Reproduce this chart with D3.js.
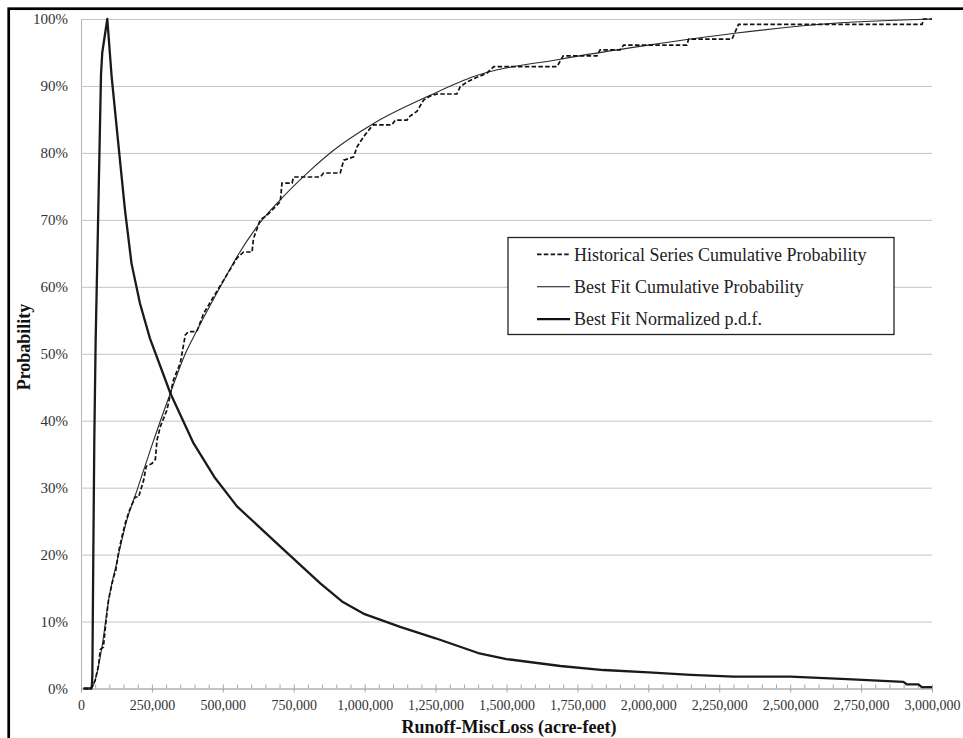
<!DOCTYPE html>
<html>
<head>
<meta charset="utf-8">
<script src="https://cdn.jsdelivr.net/npm/d3@7"></script>
<style>
  body { margin: 0; background: #fff; }
  svg { display: block; font-family: "Liberation Serif", "Times New Roman", serif; }
</style>
</head>
<body>
<script>
// historical series, empirical cumulative probability (step line)
var histX = [9000, 36300, 50000, 62000, 68000, 79000, 88000, 97000, 110000, 116000, 122000, 133000,
  144500, 156000, 170000, 191000, 203000, 220700, 230000, 250000, 262000, 268000, 279500, 303000,
  326000, 350000, 367700, 379000, 403000, 410000, 432000, 467000, 503000, 550000, 573000, 603000,
  608000, 632000, 656000, 702600, 708500, 744000, 749500, 843600, 855000, 914000, 926000, 961000,
  973000, 996000, 1020000, 1031500, 1096000, 1108000, 1149000, 1160000, 1184000, 1208000, 1231000,
  1255000, 1325000, 1337000, 1361000, 1396000, 1431000, 1455000, 1678000, 1700000, 1819000,
  1830000, 1901000, 1913000, 2136000, 2142000, 2295000, 2318000, 2965000, 2970000, 3000000];
var histP = [0, 0, 1.2, 3.5, 5.8, 6.2, 10, 13.2, 15.8, 16.8, 17.5, 20.5,
  22.7, 24.7, 26.5, 28.6, 28.6, 31.1, 33.2, 33.6, 34.2, 37.1, 39.1, 41.6,
  46.1, 48.6, 52.8, 53.3, 53.3, 53.5, 56.0, 58.5, 61.0, 64.3, 65.2, 65.2,
  67.2, 70.0, 70.7, 72.7, 75.5, 75.5, 76.4, 76.4, 77.0, 77.0, 78.9, 79.4,
  80.9, 82.4, 83.7, 84.2, 84.2, 84.9, 84.9, 85.5, 86.2, 87.9, 88.5,
  88.8, 88.8, 89.9, 90.6, 91.3, 91.9, 92.9, 92.9, 94.5, 94.5,
  95.4, 95.4, 96.1, 96.1, 97.0, 97.0, 99.2, 99.2, 100, 100];

// best fit cumulative probability
var fitX = [9000, 36300, 56400, 74000, 97300, 127000, 162000, 197400, 244300, 314800, 367700,
  409000, 491000, 550000, 626000, 702600, 808000, 890600, 1031500, 1231000, 1384000, 1690000,
  2000000, 2312000, 2665000, 3000000];
var fitP = [0, 0, 2.3, 6.2, 13.2, 19.0, 25.2, 29.6, 35.6, 44.1, 50,
  53.5, 60, 64.5, 69.3, 73, 77.4, 80.4, 84.4, 88.6, 91.4, 94.0,
  96.1, 97.9, 99.4, 100];

// best fit normalized p.d.f.
var pdfX = [9000, 36000, 38500, 40000, 43400, 46900, 51500, 61000, 70500, 75000, 92700, 108000,
  131500, 155000, 178000, 208000, 243000, 315000, 397000, 470000, 550000, 700000, 843600, 920000,
  1000000, 1125000, 1250000, 1400000, 1500000, 1690000, 1842000, 2001000, 2150000, 2300000,
  2500000, 2700000, 2899000, 2911000, 2952000, 2964000, 3000000];
var pdfP = [0, 0, 0.5, 2, 20, 37, 51.6, 71.5, 91.7, 95, 100, 91.4,
  81.4, 71.5, 63.5, 57.5, 52.3, 44.1, 36.6, 31.6, 27.2, 21.3, 15.7, 13.0,
  11.1, 9.2, 7.5, 5.3, 4.4, 3.36, 2.76, 2.4, 2.05, 1.77,
  1.77, 1.4, 1.0, 0.63, 0.63, 0.22, 0.22];

var xMajor = d3.range(0, 3000001, 250000);
var xMinor = d3.range(0, 3000001, 50000).filter(function(v){ return v % 250000 !== 0; });
var yTicks = d3.range(0, 101, 10);

var legendNames = ["Historical Series Cumulative Probability",
                   "Best Fit Cumulative Probability",
                   "Best Fit Normalized p.d.f."];

var width = 963, height = 738;
var plotL = 81, plotR = 932, plotT = 19, plotB = 688.5;

var svg = d3.select("body").append("svg")
    .attr("width", width)
    .attr("height", height)
    .attr("viewBox", "0 0 " + width + " " + height);

var x = d3.scaleLinear().domain([0, 3000000]).range([plotL, plotR]);
var y = d3.scaleLinear().domain([0, 100]).range([plotB, plotT]);

// y axis + gridlines
var yAxis = svg.append("g")
    .attr("transform", "translate(" + plotL + ",0)")
    .call(d3.axisLeft(y).tickValues(yTicks)
        .tickFormat(function(d){ return d + "%"; })
        .tickSizeInner(-(plotR - plotL)).tickSizeOuter(0).tickPadding(13));
yAxis.select(".domain").attr("stroke", "#b5b5b5");
yAxis.selectAll(".tick line").attr("stroke", "#c4c4c4");
yAxis.selectAll(".tick text")
    .attr("font-family", "Liberation Serif")
    .attr("font-size", 15).attr("fill", "#333");

// x axis, minor ticks first
var xMin = svg.append("g")
    .attr("transform", "translate(0," + plotB + ")")
    .call(d3.axisBottom(x).tickValues(xMinor).tickSize(4).tickFormat(""));
xMin.select(".domain").remove();
xMin.selectAll(".tick line").attr("y1", -4).attr("y2", 0).attr("stroke", "#a6a6a6");

var xAxis = svg.append("g")
    .attr("transform", "translate(0," + plotB + ")")
    .call(d3.axisBottom(x).tickValues(xMajor).tickFormat(d3.format(","))
        .tickSize(4).tickSizeOuter(0).tickPadding(7.5));
xAxis.select(".domain").attr("stroke", "#a6a6a6");
xAxis.selectAll(".tick line").attr("y1", -4).attr("stroke", "#a6a6a6");
xAxis.selectAll(".tick text")
    .attr("font-family", "Liberation Serif")
    .attr("font-size", 14).attr("fill", "#333");

// series
function pts(xs, ps) {
    return xs.map(function(v, i){ return [v, ps[i]]; });
}

var lineLin = d3.line()
    .x(function(d){ return x(d[0]); })
    .y(function(d){ return y(d[1]); });
var lineSmooth = d3.line()
    .x(function(d){ return x(d[0]); })
    .y(function(d){ return y(d[1]); })
    .curve(d3.curveMonotoneX);

svg.append("path")
    .datum(pts(pdfX, pdfP))
    .attr("fill", "none").attr("stroke", "#1a1a1a")
    .attr("stroke-width", 2.3).attr("stroke-linejoin", "round")
    .attr("d", lineLin);

svg.append("path")
    .datum(pts(fitX, fitP))
    .attr("fill", "none").attr("stroke", "#2a2a2a")
    .attr("stroke-width", 1.1)
    .attr("d", lineSmooth);

svg.append("path")
    .datum(pts(histX, histP))
    .attr("fill", "none").attr("stroke", "#111")
    .attr("stroke-width", 1.7).attr("stroke-dasharray", "4.5,2.3")
    .attr("d", lineLin);

// legend
var lg = svg.append("g");
lg.append("rect")
    .attr("x", 508).attr("y", 237.5).attr("width", 386).attr("height", 97)
    .attr("fill", "#fff").attr("stroke", "#222").attr("stroke-width", 1.3);

var legendStyle = [
    { w: 1.7, dash: "4.5,2.3" },
    { w: 1.1, dash: null },
    { w: 2.3, dash: null }
];
var rows = lg.selectAll("g.row").data(legendNames).enter().append("g")
    .attr("class", "row")
    .attr("transform", function(d, i){ return "translate(0," + (254.3 + i * 32.4) + ")"; });
rows.append("line")
    .attr("x1", 537).attr("x2", 570)
    .attr("stroke", "#111")
    .attr("stroke-width", function(d, i){ return legendStyle[i].w; })
    .attr("stroke-dasharray", function(d, i){ return legendStyle[i].dash; });
rows.append("text")
    .attr("x", 574).attr("dy", "0.35em")
    .attr("font-size", 18).attr("fill", "#222")
    .text(function(d){ return d; });

// axis titles
svg.append("text")
    .attr("x", 509).attr("y", 733)
    .attr("text-anchor", "middle")
    .attr("font-size", 18).attr("font-weight", "bold").attr("fill", "#111")
    .text("Runoff-MiscLoss (acre-feet)");

svg.append("text")
    .attr("transform", "translate(29.5,347) rotate(-90)")
    .attr("text-anchor", "middle")
    .attr("font-size", 18).attr("font-weight", "bold").attr("fill", "#111")
    .text("Probability");

// outer frame
svg.append("rect")
    .attr("x", 8.7).attr("y", 8.7).attr("width", 1000).attr("height", 800)
    .attr("fill", "none").attr("stroke", "#000").attr("stroke-width", 2.7);
</script>
</body>
</html>
